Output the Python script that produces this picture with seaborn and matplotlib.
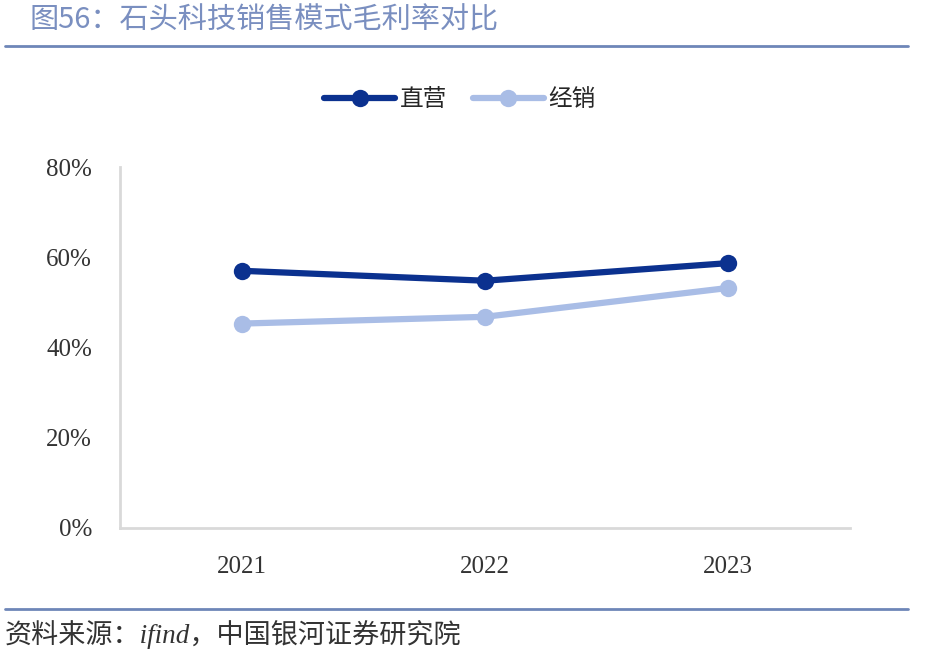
import pandas as pd
import seaborn as sns
import matplotlib.pyplot as plt
from matplotlib.lines import Line2D

years = ["2021", "2022", "2023"]
direct = [57.0, 54.8, 58.7]
distrib = [45.3, 46.8, 53.2]
series_names = ["直营", "经销"]
yticks = [0, 20, 40, 60, 80]

df = pd.DataFrame({
    "year": years * 2,
    "value": direct + distrib,
    "mode": [series_names[0]] * 3 + [series_names[1]] * 3,
})

sns.set_style("white")
plt.rcParams['font.family'] = ['Liberation Serif', 'Noto Sans CJK SC', 'DejaVu Sans']

palette = {"直营": "#0b318f", "经销": "#a9bde6"}
fig = plt.figure(figsize=(9.25, 6.55), dpi=100)
ax = fig.add_axes([120 / 925, 1 - 528 / 655, 730 / 925, 361 / 655])

sns.lineplot(data=df, x="year", y="value", hue="mode", palette=palette,
             marker="o", markersize=12.5, markeredgewidth=0, linewidth=4.5,
             sort=False, legend=False, ax=ax)

ax.set_xlim(-0.5, 2.5)
ax.set_ylim(0, 80)
ax.set_yticks(yticks)
ax.set_yticklabels([f"{t}%" for t in yticks], fontsize=18, color="#333333")
ax.tick_params(axis="x", labelsize=18, colors="#333333", pad=20, length=0)
ax.tick_params(axis="y", pad=20, length=0)
ax.set_xlabel("")
ax.set_ylabel("")
for s in ["top", "right"]:
    ax.spines[s].set_visible(False)
for s in ["left", "bottom"]:
    ax.spines[s].set_color("#d9d9d9")
    ax.spines[s].set_linewidth(2)

handles = [Line2D([0], [0], color=palette[n], lw=4.5, marker="o", markersize=12.5,
                  markeredgewidth=0) for n in series_names]
fig.legend(handles, series_names, loc="center", bbox_to_anchor=(460 / 925, 1 - 100 / 655),
           ncol=2, frameon=False, handlelength=3.0, columnspacing=1.1,
           handletextpad=0.2, prop={"family": ["Noto Sans CJK SC"], "size": 17})

fig.text(30 / 925, 1 - 20 / 655, "图56：石头科技销售模式毛利率对比", fontsize=21,
         color="#7a8fc0", va="center", ha="left", family=["Noto Sans CJK SC"])
fig.add_artist(Line2D([5 / 925, 908 / 925], [1 - 46 / 655] * 2, color="#6e86b8", lw=2))
fig.add_artist(Line2D([5 / 925, 908 / 925], [1 - 609 / 655] * 2, color="#6e86b8", lw=2))
fig.text(5 / 925, 1 - 635 / 655, "资料来源：ifind，中国银河证券研究院", fontsize=19.5,
         color="#333333", va="center", ha="left", style="italic",
         family=["Liberation Serif", "Noto Sans CJK SC"])

fig.savefig("out.png", dpi=100)
